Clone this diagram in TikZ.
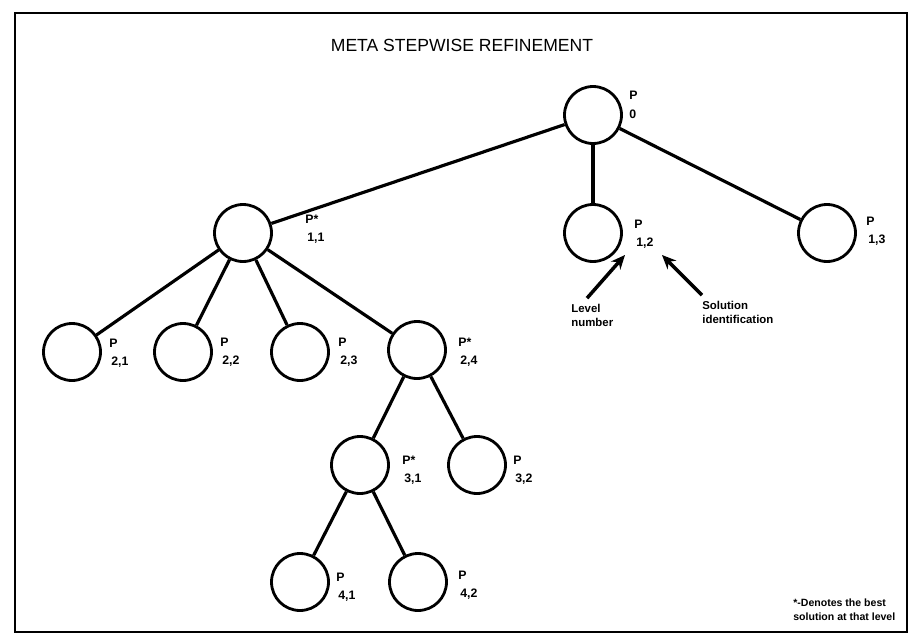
\documentclass[tikz,border=0pt]{standalone}
\usepackage{fontspec}
\setsansfont{Liberation Sans}
\usetikzlibrary{arrows.meta}
\tikzset{
  state/.style={draw,circle,line width=1.6pt,minimum size=1.14cm,inner sep=0pt},
  tag/.style={anchor=west,align=left,inner sep=0pt,font=\sffamily\bfseries\fontsize{7}{10.5}\selectfont},
  note/.style={anchor=west,align=left,inner sep=0pt,font=\sffamily\bfseries\fontsize{6.5}{8}\selectfont},
  branch/.style={line width=1.8pt},
  ptr/.style={line width=2pt,-{Stealth[length=8pt,width=7pt]}}
}
\begin{document}
\begin{tikzpicture}[x=0.02cm,y=-0.02cm]
        \useasboundingbox (0,0) rectangle (921,639);
        %% Frame and title
        \draw[line width=1.6pt] (15,13) rectangle (907,632);
        \node[font=\sffamily\fontsize{10}{12}\selectfont] (title) at (462,45) {META STEPWISE REFINEMENT};
        %% Solutions
        \node[state] (p0)  at (593,115) {};
        \node[state] (p11) at (243,233) {};
        \node[state] (p12) at (593,233) {};
        \node[state] (p13) at (827,233) {};
        \node[state] (p21) at (72,352) {};
        \node[state] (p22) at (183,352) {};
        \node[state] (p23) at (300,352) {};
        \node[state] (p24) at (417,350) {};
        \node[state] (p31) at (360,465) {};
        \node[state] (p32) at (477,465) {};
        \node[state] (p41) at (300,582) {};
        \node[state] (p42) at (418,582) {};
        %% Labels
        \node[tag] (l0)  at (629,105) {P\\0};
        \node[tag] (l11) at (305,229) {P*\\\,1,1};
        \node[tag] (l12) at (634,234) {P\\\,1,2};
        \node[tag] (l13) at (866,231) {P\\\,1,3};
        \node[tag] (l21) at (109,353) {P\\\,2,1};
        \node[tag] (l22) at (220,352) {P\\\,2,2};
        \node[tag] (l23) at (338,352) {P\\\,2,3};
        \node[tag] (l24) at (458,352) {P*\\\,2,4};
        \node[tag] (l31) at (402,470) {P*\\\,3,1};
        \node[tag] (l32) at (513,470) {P\\\,3,2};
        \node[tag] (l41) at (336,587) {P\\\,4,1};
        \node[tag] (l42) at (458,585) {P\\\,4,2};
        %% Branches
        \draw[branch] (p0) -- (p11);
        \draw[branch] (p0) -- (p12);
        \draw[branch] (p0) -- (p13);
        \foreach \k in {p21,p22,p23,p24}
          \draw[branch] (p11) -- (\k);
        \draw[branch] (p24) -- (p31);
        \draw[branch] (p24) -- (p32);
        \draw[branch] (p31) -- (p41);
        \draw[branch] (p31) -- (p42);
        %% Key to the subscripts
        \node[note] (lvl) at (571,315) {Level\\number};
        \node[note] (sol) at (702,312) {Solution\\identification};
        \coordinate (lvltip) at (625,255);
        \coordinate (soltip) at (662,255);
        \draw[ptr] ([xshift=-3pt,yshift=3pt]lvl.north) -- (lvltip);
        \draw[ptr] ([yshift=3pt]sol.north west) -- (soltip);
        %% Footnote
        \node[note,font=\sffamily\bfseries\fontsize{6}{8}\selectfont] (best) at (793,610) {*-Denotes the best\\solution at that level};
    \end{tikzpicture}
\end{document}
